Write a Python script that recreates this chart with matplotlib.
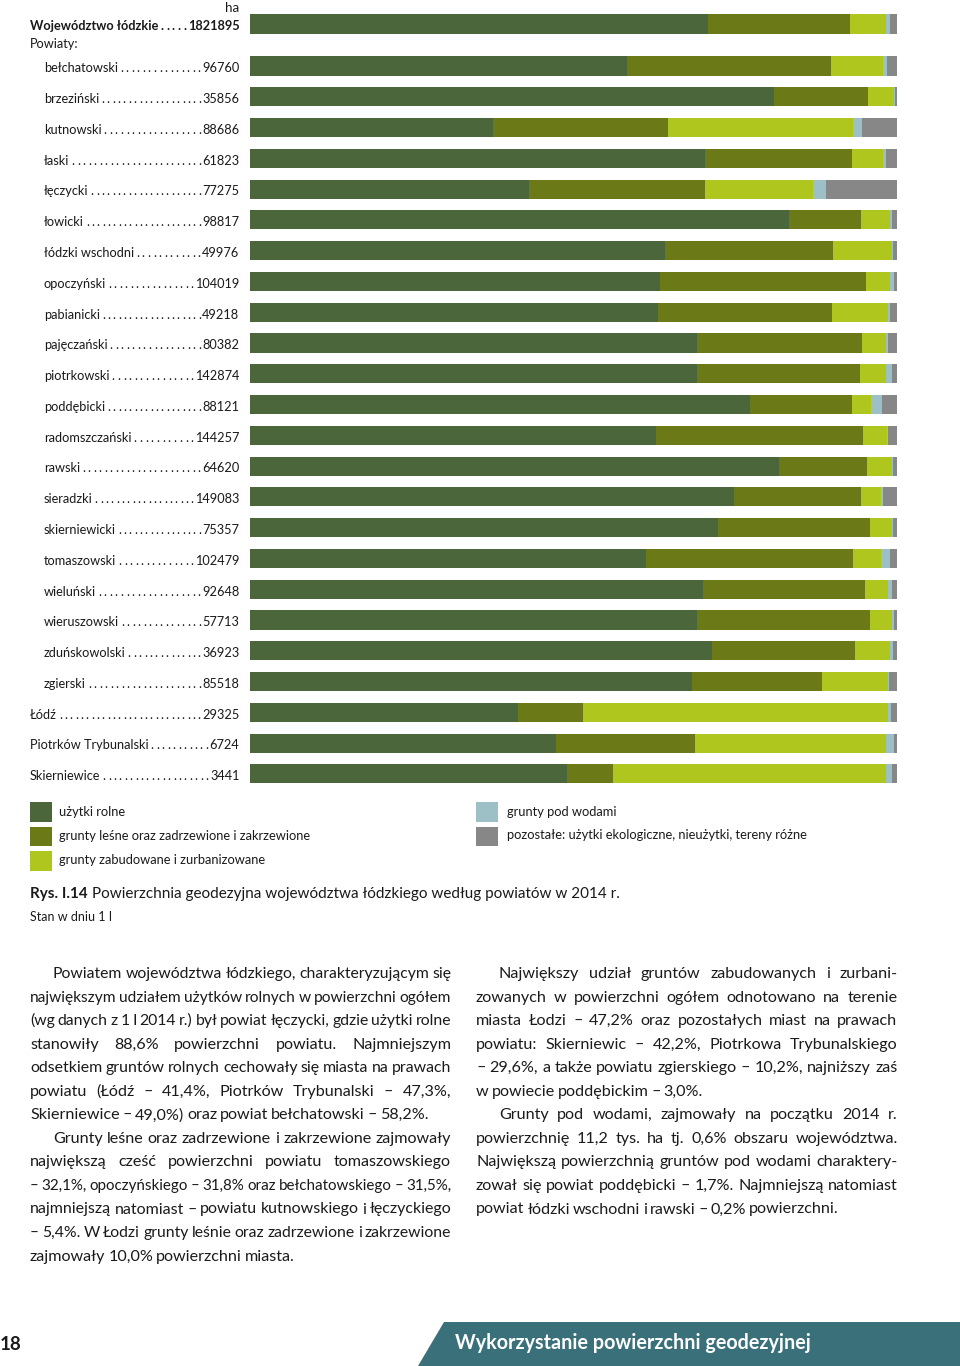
import matplotlib
matplotlib.use("Agg")
import matplotlib.pyplot as plt
import matplotlib.transforms as mtransforms
from matplotlib.patches import Rectangle, Polygon

FONT = ["Lato", "DejaVu Sans"]
plt.rcParams['font.family'] = FONT

# ---------------- data ----------------
categories = ["Województwo łódzkie", "bełchatowski", "brzeziński", "kutnowski", "łaski",
              "łęczycki", "łowicki", "łódzki wschodni", "opoczyński", "pabianicki",
              "pajęczański", "piotrkowski", "poddębicki", "radomszczański", "rawski",
              "sieradzki", "skierniewicki", "tomaszowski", "wieluński", "wieruszowski",
              "zduńskowolski", "zgierski", "Łódź", "Piotrków Trybunalski", "Skierniewice"]
areas_ha = ["1821895", "96760", "35856", "88686", "61823", "77275", "98817", "49976",
            "104019", "49218", "80382", "142874", "88121", "144257", "64620", "149083",
            "75357", "102479", "92648", "57713", "36923", "85518", "29325", "6724", "3441"]
# label indent level: 0 = flush, 1 = powiat (indented)
indent_level = [0] + [1] * 21 + [0, 0, 0]

uzytki_rolne = [70.7, 58.2, 81.0, 37.5, 70.2, 43.1, 83.3, 64.1, 63.3, 63.0, 69.1, 69.0, 77.2,
                62.7, 81.7, 74.8, 72.3, 61.1, 69.9, 69.1, 71.3, 68.2, 41.4, 47.3, 49.0]
grunty_lesne = [22.0, 31.5, 14.5, 27.0, 22.8, 27.2, 11.1, 26.0, 31.8, 26.9, 25.4, 25.2, 15.7,
                31.9, 13.6, 19.5, 23.4, 32.1, 25.1, 26.7, 22.1, 20.1, 10.0, 21.4, 7.0]
grunty_zabud = [5.5, 8.1, 3.9, 28.7, 4.8, 16.6, 4.5, 9.1, 3.7, 8.7, 3.7, 4.0, 3.0,
                3.8, 3.8, 3.1, 3.4, 4.3, 3.5, 3.4, 5.5, 10.2, 47.2, 29.6, 42.2]
grunty_wody = [0.6, 0.6, 0.2, 1.3, 0.4, 2.0, 0.3, 0.1, 0.6, 0.2, 0.4, 1.0, 1.7,
               0.2, 0.2, 0.4, 0.2, 1.3, 0.6, 0.2, 0.4, 0.2, 0.4, 1.2, 0.9]
pozostale = [1.2, 1.6, 0.4, 5.5, 1.8, 11.1, 0.8, 0.7, 0.6, 1.2, 1.4, 0.8, 2.4,
             1.4, 0.7, 2.2, 0.7, 1.2, 0.9, 0.6, 0.7, 1.3, 1.0, 0.5, 0.9]

series_names = ["użytki rolne", "grunty leśne oraz zadrzewione i zakrzewione",
                "grunty zabudowane i zurbanizowane", "grunty pod wodami",
                "pozostałe: użytki ekologiczne, nieużytki, tereny różne"]
series_colors = ["#4a663a", "#6b7a16", "#aec61e", "#9dbfc6", "#878787"]

caption_bold = "Rys. I.14"
caption_text = "Powierzchnia geodezyjna województwa łódzkiego według powiatów w 2014 r."
caption_note = "Stan w dniu 1 I"

left_col = [
    ("Powiatem województwa łódzkiego, charakteryzującym się", "first"),
    ("największym udziałem użytków rolnych w powierzchni ogółem", "mid"),
    ("(wg danych z 1 I 2014 r.) był powiat łęczycki, gdzie użytki rolne", "mid"),
    ("stanowiły 88,6% powierzchni powiatu. Najmniejszym", "mid"),
    ("odsetkiem gruntów rolnych cechowały się miasta na prawach", "mid"),
    ("powiatu (Łódź – 41,4%, Piotrków Trybunalski – 47,3%,", "mid"),
    ("Skierniewice – 49,0%) oraz powiat bełchatowski – 58,2%.", "last"),
    ("Grunty leśne oraz zadrzewione i zakrzewione zajmowały", "first"),
    ("największą cześć powierzchni powiatu tomaszowskiego", "mid"),
    ("– 32,1%, opoczyńskiego – 31,8% oraz bełchatowskiego – 31,5%,", "mid"),
    ("najmniejszą natomiast – powiatu kutnowskiego i łęczyckiego", "mid"),
    ("– 5,4%.  W Łodzi grunty leśnie oraz zadrzewione i zakrzewione", "mid"),
    ("zajmowały 10,0% powierzchni miasta.", "last"),
]
right_col = [
    ("Największy udział gruntów zabudowanych i zurbani-", "first"),
    ("zowanych w powierzchni ogółem odnotowano na terenie", "mid"),
    ("miasta Łodzi – 47,2% oraz pozostałych miast na prawach", "mid"),
    ("powiatu: Skierniewic – 42,2%, Piotrkowa Trybunalskiego", "mid"),
    ("– 29,6%, a także powiatu zgierskiego – 10,2%, najniższy zaś", "mid"),
    ("w powiecie poddębickim – 3,0%.", "last"),
    ("Grunty pod wodami, zajmowały na początku 2014 r.", "first"),
    ("powierzchnię 11,2 tys. ha tj. 0,6% obszaru województwa.", "mid"),
    ("Największą powierzchnią gruntów pod wodami charaktery-", "mid"),
    ("zował się powiat poddębicki – 1,7%. Najmniejszą natomiast", "mid"),
    ("powiat łódzki wschodni i rawski – 0,2% powierzchni.", "last"),
]
page_number = "18"
banner_text = "Wykorzystanie powierzchni geodezyjnej"

# ---------------- figure ----------------
W, H = 960, 1366
fig = plt.figure(figsize=(W / 100, H / 100), dpi=100)
fig.patch.set_facecolor("white")
ov = fig.add_axes([0, 0, 1, 1])
ov.set_xlim(0, W)
ov.set_ylim(H, 0)
ov.axis("off")

TXT = "#1a1a1a"

# bar axes
ROW0, STEP = 66.0, 30.78
top_px, bot_px = 0.0, 800.0
x_left, x_right = 250.0, 897.5
ax = fig.add_axes([x_left / W, 1 - bot_px / H, (x_right - x_left) / W, (bot_px - top_px) / H])
ax.set_xlim(0, 100)
ax.set_ylim((bot_px - ROW0) / STEP, (top_px - ROW0) / STEP)
ax.axis("off")

ypos = [-1.365] + list(range(len(categories) - 1))
series = [uzytki_rolne, grunty_lesne, grunty_zabud, grunty_wody, pozostale]
left = [0.0] * len(categories)
for vals, col, name in zip(series, series_colors, series_names):
    ax.barh(ypos, vals, left=left, height=0.62, color=col, linewidth=0, label=name)
    left = [l + v for l, v in zip(left, vals)]

fig.canvas.draw()
r = fig.canvas.get_renderer()

# labels with dot leaders
trans = mtransforms.blended_transform_factory(ov.transData, ax.transData) + \
    mtransforms.ScaledTranslation(0, -6.3 / 100, fig.dpi_scale_trans)
LBL = 9.2
NUM_X = 239.5
for i, (cat, area, lev, yp) in enumerate(zip(categories, areas_ha, indent_level, ypos)):
    bold = (i == 0)
    fw = "bold" if bold else "normal"
    x0 = 44 if lev == 1 else 30
    tn = ov.text(x0, yp, cat, transform=trans, fontsize=LBL, color=TXT,
                 fontweight=fw, va="baseline", ha="left")
    tv = ov.text(NUM_X, yp, area, transform=trans, fontsize=LBL, color=TXT,
                 fontweight=fw, va="baseline", ha="right")
    bn = tn.get_window_extent(r)
    bv = tv.get_window_extent(r)
    a, b = bn.x1 + 3.5, bv.x0 - 3.0
    n = int((b - a) / 5.3) + 1
    if n > 1:
        step = (b - a) / (n - 1)
        for j in range(n):
            ov.text(a + j * step, yp, ".", transform=trans, fontsize=LBL, color=TXT,
                    fontweight=fw, va="baseline", ha="center")

ov.text(30, 48, "Powiaty:", fontsize=LBL, color=TXT, va="baseline", ha="left")
ov.text(NUM_X, 12, "ha", fontsize=9.6, color=TXT, va="baseline", ha="right")

# legend
leg_rows = [(30, 802, 59, 816.5), (30, 826.5, 59, 840), (30, 851, 59, 864),
            (476, 802, 507, 815.5), (476, 826.5, 507, 839)]
for (sx, sy, tx, ty), col, name in zip(leg_rows, series_colors, series_names):
    ov.add_patch(Rectangle((sx, sy), 21.5, 19.5, facecolor=col, edgecolor="none"))
    ov.text(tx, ty, name, fontsize=9.3, color=TXT, va="baseline", ha="left")

# caption
tb = ov.text(30, 898, caption_bold, fontsize=11.0, fontweight="bold", color=TXT,
             va="baseline", ha="left")
bb = tb.get_window_extent(r)
ov.text(bb.x1 + 4, 898, caption_text, fontsize=11.0, color=TXT, va="baseline", ha="left")
ov.text(30, 921, caption_note, fontsize=9.0, color=TXT, va="baseline", ha="left")


# body text, justified
def measure_space(size):
    t1 = ov.text(0, 0, "a a", fontsize=size)
    t2 = ov.text(0, 0, "aa", fontsize=size)
    sp = t1.get_window_extent(r).width - t2.get_window_extent(r).width
    t1.remove()
    t2.remove()
    return sp


def set_line(text, x0, x1, yb, size, justify):
    words = [w for w in text.split(" ") if w != ""]
    while True:
        ts = [ov.text(0, yb, w, fontsize=size, color=TXT, va="baseline", ha="left") for w in words]
        widths = [t.get_window_extent(r).width for t in ts]
        sp = measure_space(size)
        natural = sum(widths) + (len(words) - 1) * sp * 0.7
        if justify and natural > (x1 - x0) and size > 8:
            for t in ts:
                t.remove()
            size *= (x1 - x0) / natural * 0.998
            continue
        break
    if justify and len(words) > 1:
        gap = ((x1 - x0) - sum(widths)) / (len(words) - 1)
    else:
        gap = sp * 0.7
    x = x0
    for t, w in zip(ts, widths):
        t.set_x(x)
        x += w + gap


BODY = 11.6
for col_lines, cx0, cx1 in [(left_col, 30, 451), (right_col, 476, 897.5)]:
    for k, (line, kind) in enumerate(col_lines):
        yb = 978 + 23.55 * k
        xs = cx0 + (23 if kind == "first" else 0)
        set_line(line, xs, cx1, yb, BODY, kind != "last")

# footer
ov.text(0, 1350, page_number, fontsize=13.5, fontweight="bold", color=TXT,
        va="baseline", ha="left")
ov.add_patch(Polygon([(444, 1322), (960, 1322), (960, 1366), (418, 1366)],
                     closed=True, facecolor="#3a707a", edgecolor="none"))
ov.text(455, 1349, banner_text, fontsize=14.2, fontweight="bold", color="white",
        va="baseline", ha="left")

fig.savefig("out.png", dpi=100, facecolor="white")
